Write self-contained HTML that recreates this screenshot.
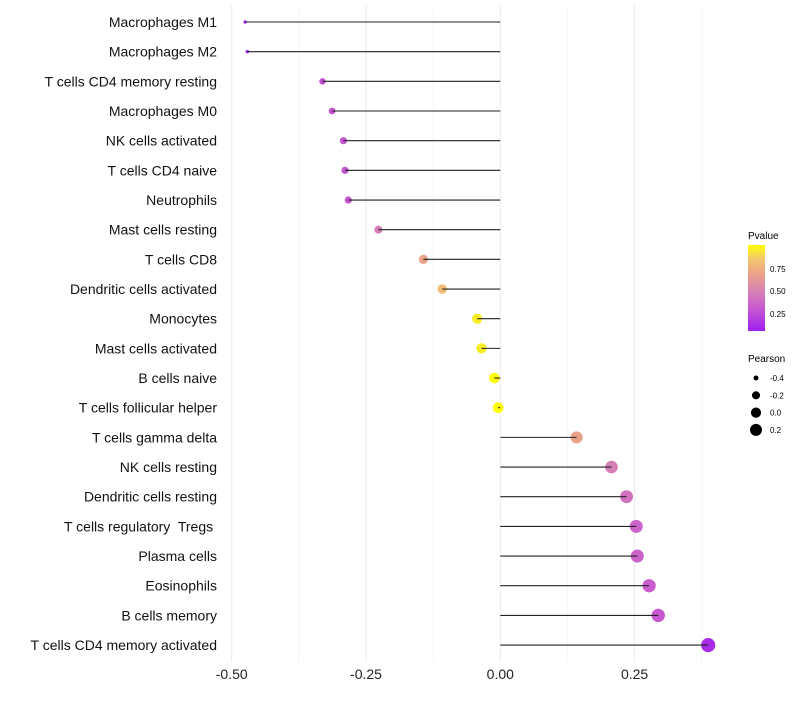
<!DOCTYPE html>
<html><head><meta charset="utf-8"><style>
body{margin:0;background:#fff;font-family:"Liberation Sans",sans-serif;}
text{white-space:pre;}
</style></head><body>
<svg id="chart" width="800" height="700" xmlns="http://www.w3.org/2000/svg" style="font-family:'Liberation Sans',sans-serif">
<defs><linearGradient id="pg" x1="0" y1="1" x2="0" y2="0">
<stop offset="0" stop-color="#a020f0"/><stop offset="0.26" stop-color="#c858d0"/><stop offset="0.47" stop-color="#d884b4"/><stop offset="0.68" stop-color="#eca484"/><stop offset="0.84" stop-color="#f4c870"/><stop offset="1" stop-color="#ffff00"/>
</linearGradient></defs>
<g id="grid"></g>
<g id="points"></g>
<g id="marks"></g>
<g id="legend">
<text x="748" y="239" font-size="10">Pvalue</text>
<rect x="748" y="245" width="17" height="86" fill="url(#pg)"/>
<text x="770" y="272" font-size="8">0.75</text>
<text x="770" y="294" font-size="8">0.50</text>
<text x="770" y="317" font-size="8">0.25</text>
<text x="748" y="362" font-size="10">Pearson</text>
</g>
</svg>
<script>
const categories=["Macrophages M1","Macrophages M2","T cells CD4 memory resting","Macrophages M0","NK cells activated","T cells CD4 naive","Neutrophils","Mast cells resting","T cells CD8","Dendritic cells activated","Monocytes","Mast cells activated","B cells naive","T cells follicular helper","T cells gamma delta","NK cells resting","Dendritic cells resting","T cells regulatory  Tregs ","Plasma cells","Eosinophils","B cells memory","T cells CD4 memory activated"];
const pearson=[-0.475,-0.471,-0.331,-0.313,-0.292,-0.289,-0.283,-0.227,-0.143,-0.108,-0.043,-0.035,-0.011,-0.004,0.142,0.207,0.235,0.253,0.255,0.277,0.294,0.387];
const pvalue=[0.05,0.06,0.28,0.28,0.28,0.28,0.29,0.48,0.68,0.8,0.95,0.95,0.99,1.0,0.68,0.48,0.42,0.35,0.35,0.32,0.3,0.1];
const xTicks=[-0.5,-0.25,0,0.25];
const xTickLabels=["-0.50","-0.25","0.00","0.25"];
const sizeLegend=[-0.4,-0.2,0.0,0.2];
const ns="http://www.w3.org/2000/svg";
const x=v=>500.3+v*537.2;
const y=i=>22+i*29.67;
const r=v=>Math.sqrt(Math.max(1.5,26.1+49.6*v));
const cStops=[[0.05,[160,32,240]],[0.3,[200,88,208]],[0.5,[216,132,180]],[0.7,[236,164,132]],[0.85,[244,200,112]],[1.0,[255,255,0]]];
function col(p){p=Math.max(0.05,Math.min(1,p));
 for(let k=0;k<cStops.length-1;k++){const [a,ca]=cStops[k],[b,cb]=cStops[k+1];
  if(p<=b){const t=(p-a)/(b-a);return `rgb(${ca.map((c,j)=>Math.round(c+(cb[j]-c)*t))})`;}}
 return 'rgb(255,255,0)';}
function el(tag,at,parent){const e=document.createElementNS(ns,tag);for(const k in at)e.setAttribute(k,at[k]);parent.appendChild(e);return e;}
const grid=document.getElementById('grid'),marks=document.getElementById('marks'),points=document.getElementById('points'),legend=document.getElementById('legend');
[-0.375,-0.125,0.125,0.375].forEach(v=>{const l=el('line',{x1:x(v),x2:x(v),y1:5,y2:662,stroke:'#f2f2f2','stroke-width':0.6},grid);

});
xTicks.forEach((v,i)=>{const l=el('line',{x1:x(v),x2:x(v),y1:5,y2:662,stroke:'#ebebeb','stroke-width':1},grid);


const t=el('text',{x:x(v),y:679,'font-size':14,'text-anchor':'middle',fill:'#222'},grid);t.textContent=xTickLabels[i];

});
categories.forEach((c,i)=>{
const t=el('text',{x:217,y:y(i)+5,'font-size':14,'text-anchor':'end',fill:'#111'},grid);t.textContent=c;


const d=el('circle',{cx:x(pearson[i]),cy:y(i),r:r(pearson[i])*1.05,fill:col(pvalue[i])},points);


const l=el('line',{x1:x(0),x2:x(pearson[i]),y1:y(i),y2:y(i),stroke:'#222','stroke-width':1.1},marks);


});
sizeLegend.forEach((v,i)=>{const cy=378+i*17.3;
const d=el('circle',{cx:756,cy:cy,r:r(v),fill:'#000'},legend);


const t=el('text',{x:770,y:cy+3,'font-size':8},legend);t.textContent=v.toFixed(1);

});
</script>
</body></html>
